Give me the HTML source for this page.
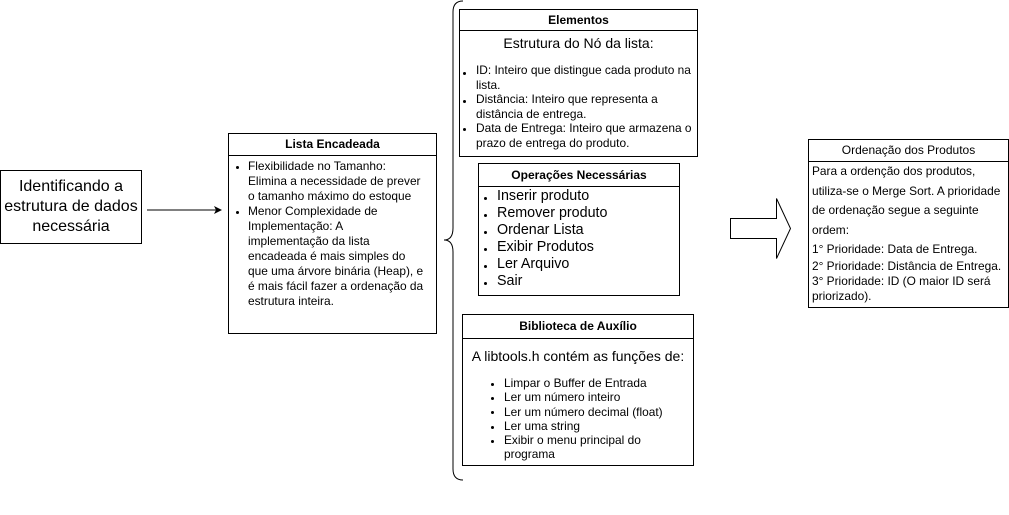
<!DOCTYPE html>
<html><head><meta charset="utf-8"><style>
body{margin:0;width:1009px;height:515px;background:#fff;position:relative;overflow:hidden;font-family:"Liberation Sans",Arial,sans-serif;color:#000}
.b{position:absolute;border:1px solid #000;box-sizing:border-box;background:#fff}
.h{position:absolute;left:0;right:0;top:0;border-bottom:1px solid #000;text-align:center;font-weight:bold;font-size:12px;box-sizing:border-box}
.t{position:absolute;white-space:nowrap;font-size:11.9px;line-height:15px}
.d{position:absolute;width:3px;height:3px;border-radius:50%;background:#000}
</style></head><body>
<svg width="1009" height="515" style="position:absolute;left:0;top:0">
<line x1="147" y1="210" x2="216" y2="210" stroke="#000" stroke-width="1"/>
<polygon points="222,210 214,206 216,210 214,214" fill="#000"/>
<path d="M463,1 Q453,1 453,12 L453,228 Q453,240 444,240 Q453,240 453,252 L453,469 Q453,480 463,480" fill="none" stroke="#000" stroke-width="1"/>
<polygon points="730.5,218.5 776.5,218.5 776.5,198.5 790.5,228.5 776.5,258.5 776.5,238.5 730.5,238.5" fill="#fff" stroke="#000" stroke-width="1"/>
</svg>

<div class="b" style="left:0;top:170px;width:142px;height:74px"></div>
<div class="t" style="left:0;width:142px;text-align:center;top:177px;font-size:16px;line-height:20px">Identificando a<br>estrutura de dados<br>necessária</div>

<div class="b" style="left:228px;top:133px;width:209px;height:201px"><div class="h" style="height:22px;line-height:21px">Lista Encadeada</div></div>
<div class="d" style="left:236px;top:166px"></div>
<div class="d" style="left:236px;top:211px"></div>
<div class="t" style="left:248px;top:159px">Flexibilidade no Tamanho:<br>Elimina a necessidade de prever<br>o tamanho máximo do estoque<br>Menor Complexidade de<br>Implementação: A<br>implementação da lista<br>encadeada é mais simples do<br>que uma árvore binária (Heap), e<br>é mais fácil fazer a ordenação da<br>estrutura inteira.</div>

<div class="b" style="left:459px;top:9px;width:239px;height:148px"><div class="h" style="height:21px;line-height:20px">Elementos</div></div>
<div class="t" style="left:459px;width:239px;text-align:center;top:34px;font-size:14px;line-height:18px">Estrutura do Nó da lista:</div>
<div class="d" style="left:463px;top:72px"></div>
<div class="d" style="left:463px;top:100px"></div>
<div class="t" style="left:476px;top:63px;line-height:14.5px">ID: Inteiro que distingue cada produto na<br>lista.<br>Distância: Inteiro que representa a<br>distância de entrega.<br>Data de Entrega: Inteiro que armazena o<br>prazo de entrega do produto.</div>
<div class="d" style="left:463px;top:128px"></div>

<div class="b" style="left:478px;top:163px;width:202px;height:133px"><div class="h" style="height:23px;line-height:22px">Operações Necessárias</div></div>
<div class="t" style="left:497px;top:188px;font-size:14.3px;line-height:17px">Inserir produto<br>Remover produto<br>Ordenar Lista<br>Exibir Produtos<br>Ler Arquivo<br>Sair</div>
<div class="d" style="left:484px;top:197px"></div><div class="d" style="left:484px;top:214px"></div><div class="d" style="left:484px;top:231px"></div><div class="d" style="left:484px;top:248px"></div><div class="d" style="left:484px;top:265px"></div><div class="d" style="left:484px;top:282px"></div>

<div class="b" style="left:462px;top:314px;width:232px;height:152px"><div class="h" style="height:24px;line-height:23px">Biblioteca de Auxílio</div></div>
<div class="t" style="left:462px;width:232px;text-align:center;top:347px;font-size:14px;line-height:18px">A libtools.h contém as funções de:</div>
<div class="t" style="left:504px;top:376px;line-height:14.3px">Limpar o Buffer de Entrada<br>Ler um número inteiro<br>Ler um número decimal (float)<br>Ler uma string<br>Exibir o menu principal do<br>programa</div>
<div class="d" style="left:491px;top:383px"></div><div class="d" style="left:491px;top:397px"></div><div class="d" style="left:491px;top:411px"></div><div class="d" style="left:491px;top:426px"></div><div class="d" style="left:491px;top:440px"></div>

<div class="b" style="left:808px;top:139px;width:201px;height:169px"><div class="h" style="height:22px;line-height:21px;font-weight:normal">Ordenação dos Produtos</div></div>
<div class="t" style="left:812px;top:162px;line-height:19.5px">Para a ordenção dos produtos,<br>utiliza-se o Merge Sort. A prioridade<br>de ordenação segue a seguinte<br>ordem:<br>1° Prioridade: Data de Entrega.</div>
<div class="t" style="left:812px;top:259px;line-height:15px">2° Prioridade: Distância de Entrega.<br>3° Prioridade: ID (O maior ID será<br>priorizado).</div>
</body></html>
